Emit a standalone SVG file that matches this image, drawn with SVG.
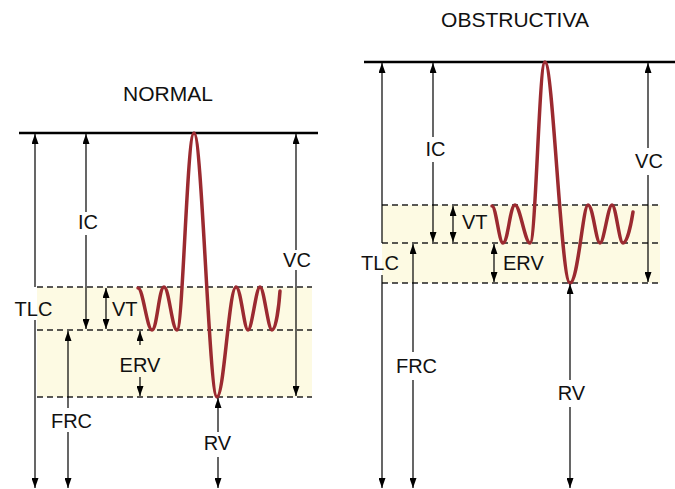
<svg xmlns="http://www.w3.org/2000/svg" width="675" height="489" viewBox="0 0 675 489">
<defs>
<marker id="ah" viewBox="0 0 10 7" refX="10" refY="3.5" markerWidth="10" markerHeight="7" markerUnits="userSpaceOnUse" orient="auto-start-reverse">
<path d="M0,0 L10,3.5 L0,7 z" fill="#000"/>
</marker>
<style>
.t{font-family:"Liberation Sans",Arial,sans-serif;font-size:20px;fill:#111}
.h{font-family:"Liberation Sans",Arial,sans-serif;font-size:21px;fill:#111}
.top{stroke:#000;stroke-width:2.5;fill:none}
.d{stroke:#222;stroke-width:1.4;stroke-dasharray:6 4;fill:none}
.a{stroke:#000;stroke-width:1.2;fill:none;marker-end:url(#ah)}
.b{stroke:#000;stroke-width:1.2;fill:none;marker-start:url(#ah);marker-end:url(#ah)}
.c{stroke:#9b2a30;stroke-width:3.5;fill:none;stroke-linecap:round;stroke-linejoin:round}
.s{fill:#fdfae3}
</style>
</defs>
<rect width="675" height="489" fill="#fff"/>

<g id="normal">
<rect class="s" x="37" y="287" width="275" height="110"/>
<line class="top" x1="19" y1="133" x2="318" y2="133"/>
<line class="d" x1="37" y1="287" x2="312" y2="287"/>
<line class="d" x1="37" y1="330" x2="312" y2="330"/>
<line class="d" x1="37" y1="397" x2="312" y2="397"/>
<text class="h" x="168" y="101" text-anchor="middle">NORMAL</text>
<path class="c" d="M138,288 C143,288 147,330 152,330 C157,330 159,287 164,287 C169,287 172,330 177,330 C183,330 187,133 194,133 C202,133 209,397 217,397 C224,397 229,287 236,287 C241,287 244,330 248,330 C252,330 256,287 260,287 C264,287 268,330 272,330 C276,330 279,305 280,291"/>
</g>

<g id="obstructiva">
<rect class="s" x="382" y="205" width="278" height="78"/>
<line class="top" x1="364" y1="62" x2="675" y2="62"/>
<line class="d" x1="382" y1="205" x2="660" y2="205"/>
<line class="d" x1="382" y1="243" x2="660" y2="243"/>
<line class="d" x1="382" y1="283" x2="660" y2="283"/>
<text class="h" x="515" y="27" text-anchor="middle">OBSTRUCTIVA</text>
<path class="c" d="M492,206 C496,206 499,243 503,243 C508,243 510,205 515,205 C520,205 525,243 530,243 C536,243 539,62 545,62 C553,62 561,283 570,283 C578,283 583,205 588,205 C593,205 596,243 600,243 C604,243 608,205 612,205 C616,205 619,243 623,243 C627,243 631,225 633,212"/>
</g>

<g id="connectors">
<!-- normal -->
<path class="a" d="M35,287 V134"/><path class="a" d="M35,320 V488"/>
<path class="a" d="M86,212 V134"/><path class="a" d="M86,235 V329"/>
<path class="b" d="M106,288 V329"/>
<path class="a" d="M68,408 V331"/><path class="a" d="M68,432 V488"/>
<path class="a" d="M140,345 V331"/><path class="a" d="M140,377 V396"/>
<path class="a" d="M296,250 V134"/><path class="a" d="M296,270 V396"/>
<path class="a" d="M218,432 V398"/><path class="a" d="M218,457 V488"/>
<!-- obstructiva -->
<path class="a" d="M382,243 V63"/><path class="a" d="M382,275 V488"/>
<path class="a" d="M433,137 V63"/><path class="a" d="M433,162 V242"/>
<path class="b" d="M453,206 V242"/>
<path class="a" d="M413,352 V244"/><path class="a" d="M413,380 V488"/>
<path class="b" d="M494,244 V282"/>
<path class="a" d="M648,148 V63"/><path class="a" d="M648,175 V282"/>
<path class="a" d="M570,380 V284"/><path class="a" d="M570,407 V488"/>
</g>

<g id="labels">
<text class="t" x="88" y="229" text-anchor="middle">IC</text>
<text class="t" x="33.5" y="316" text-anchor="middle">TLC</text>
<text class="t" x="112" y="316">VT</text>
<text class="t" x="140" y="372" text-anchor="middle">ERV</text>
<text class="t" x="71.5" y="428" text-anchor="middle">FRC</text>
<text class="t" x="217.5" y="450" text-anchor="middle">RV</text>
<text class="t" x="297" y="267" text-anchor="middle">VC</text>
<text class="t" x="435.5" y="156" text-anchor="middle">IC</text>
<text class="t" x="649" y="168" text-anchor="middle">VC</text>
<text class="t" x="462" y="229">VT</text>
<text class="t" x="503" y="270">ERV</text>
<text class="t" x="380" y="270" text-anchor="middle">TLC</text>
<text class="t" x="416.5" y="373" text-anchor="middle">FRC</text>
<text class="t" x="571.5" y="400" text-anchor="middle">RV</text>
</g>
</svg>
